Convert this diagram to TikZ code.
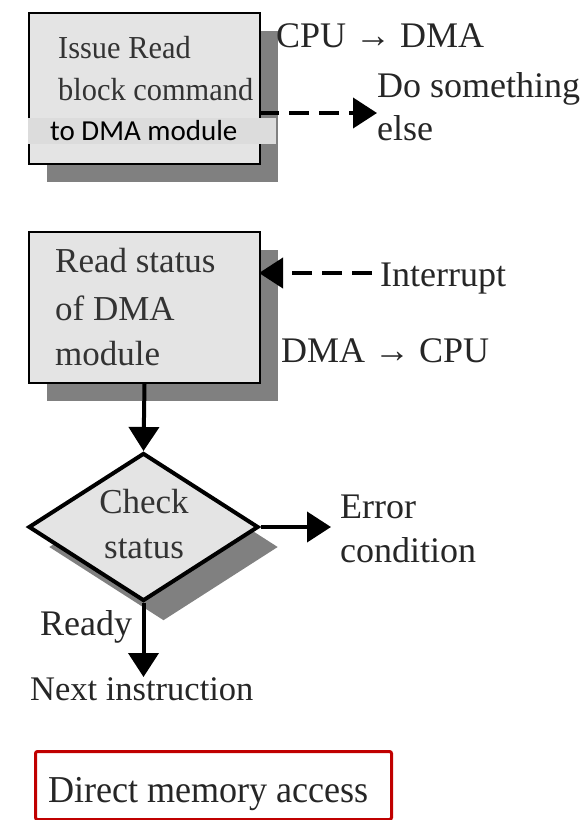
\documentclass[tikz,border=0pt]{standalone}
\usepackage{fontspec}
\setmainfont{Liberation Serif}
\newfontfamily\serifnarrow[FakeStretch=0.95]{Liberation Serif}
\newfontfamily\labelsans{Carlito}
\usetikzlibrary{arrows.meta,shapes.geometric,shadows}
\definecolor{boxfill}{HTML}{E4E4E4}
\definecolor{shadowgray}{HTML}{808080}
\definecolor{boxtext}{HTML}{333333}
\definecolor{overlayfill}{HTML}{DCDCDC}
\definecolor{framered}{HTML}{C00000}
\tikzset{
  stepbox/.style={draw=black, line width=2pt, fill=boxfill, rectangle, inner sep=0pt,
    anchor=north west, drop shadow={shadow xshift=18pt, shadow yshift=-18pt, fill=shadowgray, opacity=1}},
  decision/.style={draw=black, line width=4pt, fill=boxfill, diamond, inner sep=0pt,
    minimum width=230pt, minimum height=148pt,
    drop shadow={shadow xshift=20pt, shadow yshift=-20pt, fill=shadowgray, opacity=1}},
  boxlabel/.style={anchor=base west, inner sep=0pt, text=boxtext, font=\serifnarrow\fontsize{32}{38}\selectfont},
  boxlabelb/.style={anchor=base west, inner sep=0pt, text=boxtext, font=\fontsize{35}{40}\selectfont},
  midlabel/.style={anchor=base, inner sep=0pt, text=boxtext, font=\fontsize{35}{40}\selectfont},
  sidelabel/.style={anchor=base west, inner sep=0pt, text=black!85, font=\fontsize{36}{42}\selectfont},
  flow/.style={line width=4pt, -{Triangle[length=24pt,width=30pt]}},
  dflow/.style={flow, dash pattern=on 20pt off 10pt},
}
\begin{document}
\begin{tikzpicture}[x=1pt,y=-1pt]
\useasboundingbox (0,0) rectangle (587,820);

% first step: issue the read command
\node[stepbox, minimum width=231pt, minimum height=151pt] (b1) at (28,12) {};
\node[boxlabel] (b1l1) at (58,58) {Issue Read};
\node[boxlabel] (b1l2) at (58,100) {block command};
\node[fill=overlayfill, inner sep=0pt, anchor=north west, minimum width=248pt, minimum height=26pt] (ov) at (28,118) {};
\node[anchor=base west, inner sep=0pt, font=\labelsans\fontsize{29}{32}\selectfont] (ovt) at (50,140) {to DMA module};

\node[sidelabel] (cpudma) at (276,47) {CPU → DMA};
\node[sidelabel] (else1) at (377,97) {Do something};
\node[sidelabel] (else2) at (377,140) {else};
\coordinate (d1s) at (259,113);
\coordinate (d1e) at (377,113);
\draw[dflow] (d1s) -- (d1e);

% second step: read the status
\node[stepbox, minimum width=231pt, minimum height=151pt] (b2) at (28,231) {};
\node[boxlabelb] (b2l1) at (55,272) {Read status};
\node[boxlabelb] (b2l2) at (55,320) {of DMA};
\node[boxlabelb] (b2l3) at (55,365) {module};

\node[sidelabel] (intr) at (380,286) {Interrupt};
\node[sidelabel] (dmacpu) at (281,362) {DMA → CPU};
\coordinate (i1s) at (372,273);
\coordinate (i1e) at (259,273);
\draw[dflow] (i1s) -- (i1e);

% decision
\node[decision] (chk) at (143.5,527) {};
\node[midlabel] (chk1) at (144,513) {Check};
\node[midlabel] (chk2) at (144,558) {status};
\draw[flow] (b2.south) -- (chk.north);

\node[sidelabel] (err1) at (340,518) {Error};
\node[sidelabel] (err2) at (340,562) {condition};
\coordinate (erre) at (331,527);
\draw[flow] (chk.east) -- (erre);

\node[sidelabel] (ready) at (40,635) {Ready};
\node[sidelabel, font=\fontsize{34.5}{40}\selectfont] (next) at (30,700) {Next instruction};
\coordinate (nexte) at (143.5,677);
\draw[flow] (chk.south) -- (nexte);

% caption frame
\node[draw=framered, line width=3pt, rounded corners=2pt, anchor=north west, inner sep=0pt,
  minimum width=356pt, minimum height=68pt] (cap) at (34,750) {};
\node[anchor=base west, inner sep=0pt, text=black!85, font=\serifnarrow\fontsize{38}{44}\selectfont] (capt) at (48,802) {Direct memory access};
\end{tikzpicture}
\end{document}
